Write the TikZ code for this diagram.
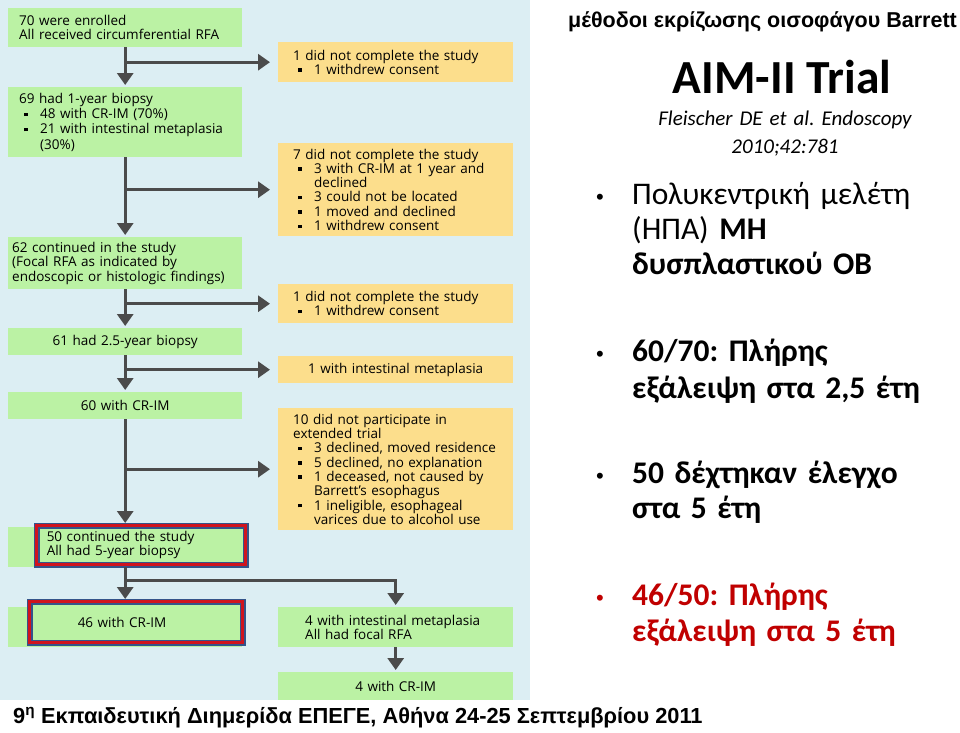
\documentclass[tikz,border=0pt]{standalone}
\usepackage{fontspec}
\usepackage{xcolor}
\setmainfont{Open Sans}
\newfontfamily\calib{Carlito}
\newfontfamily\arial{Liberation Sans}
\usetikzlibrary{arrows.meta,positioning}
\frenchspacing

\definecolor{bgblue}{HTML}{DCEEF3}
\definecolor{gfill}{HTML}{BBF2A4}
\definecolor{yfill}{HTML}{FCDE8C}
\definecolor{arrgray}{HTML}{4B4B4B}
\definecolor{navy}{HTML}{34548A}
\definecolor{hlred}{HTML}{D0141E}
\definecolor{txtred}{HTML}{C00000}

\newcommand{\itm}[1]{\par\hangindent=21pt\hspace*{5pt}\makebox[16pt][l]{\rule[2.6pt]{3.4pt}{3.4pt}}#1\par}

\tikzset{
  box/.style={anchor=north west, inner xsep=11pt, inner ysep=0pt, text width=212pt,
    font=\fontsize{13.5}{14.3}\selectfont, align=left},
  gbox/.style={box, fill=gfill},
  ybox/.style={box, fill=yfill, inner xsep=15pt, text width=205pt},
  hlbox/.style={box, fill=gfill, draw=navy, line width=1.5pt, double=hlred, double distance=3pt},
  arr/.style={draw=arrgray, line width=3pt, -{Triangle[length=12pt,width=16pt]}, shorten >=2pt},
  side/.style={arr, shorten >=8pt},
  pt/.style={anchor=base west, text width=330pt, inner sep=0pt, align=left},
  bul/.style={anchor=base, inner sep=0pt, font=\arial\fontsize{22}{24}\selectfont}
}

\begin{document}
\begin{tikzpicture}[x=1pt,y=-1pt]
  \useasboundingbox (0,0) rectangle (960,732);
  \fill[white] (0,0) rectangle (960,732);
  \fill[bgblue] (0,0) rectangle (530,700);

  % flow chart
  \node[gbox, minimum height=39pt] (b1) at (8,8) {70 were enrolled\\All received circumferential RFA};
  \node[ybox, minimum height=40pt] (y1) at (278,42) {1 did not complete the study\itm{1 withdrew consent}};
  \node[gbox, minimum height=70pt, font=\fontsize{13.5}{15.2}\selectfont] (b2) at (8,87) {69 had 1-year biopsy\itm{48 with CR-IM (70\%)}\itm{21 with intestinal metaplasia\newline(30\%)}};
  \node[ybox, minimum height=93pt] (y2) at (278,143) {7 did not complete the study\itm{3 with CR-IM at 1 year and\newline declined}\itm{3 could not be located}\itm{1 moved and declined}\itm{1 withdrew consent}};
  \node[gbox, minimum height=52pt, inner xsep=4pt, text width=226pt] (b3) at (8,237) {62 continued in the study\\(Focal RFA as indicated by\\endoscopic or histologic findings)};
  \node[ybox, minimum height=39pt] (y3) at (278,284) {1 did not complete the study\itm{1 withdrew consent}};
  \node[gbox, minimum height=27pt, align=center] (b4) at (8,328) {61 had 2.5-year biopsy};
  \node[ybox, minimum height=27pt, align=center] (y4) at (278,356) {1 with intestinal metaplasia};
  \node[gbox, minimum height=27pt, align=center] (b5) at (8,392) {60 with CR-IM};
  \node[ybox, minimum height=122pt] (y5) at (278,408) {10 did not participate in\\extended trial\itm{3 declined, moved residence}\itm{5 declined, no explanation}\itm{1 deceased, not caused by\newline Barrett's esophagus}\itm{1 ineligible, esophageal\newline varices due to alcohol use}};
  \node[gbox, minimum height=40pt] (b6bg) at (8,527) {};
  \node[hlbox, minimum height=39pt, inner xsep=10pt, text width=189pt] (b6) at (36,525) {50 continued the study\\All had 5-year biopsy};
  \node[gbox, minimum height=40pt] (b7bg) at (8,607) {};
  \node[hlbox, minimum height=41pt, inner xsep=10pt, text width=193pt] (b7) at (29,601) {\hspace*{38pt}46 with CR-IM};
  \node[ybox, fill=gfill, minimum height=40pt, inner xsep=27pt, text width=181pt] (b8) at (278,607) {4 with intestinal metaplasia\\All had focal RFA};
  \node[ybox, fill=gfill, minimum height=28pt, align=center] (b9) at (278,672) {4 with CR-IM};

  \draw[arr] (b1) -- (b2);
  \draw[side] (b1.south |- y1.west) -- (y1.west);
  \draw[arr] (b2) -- (b3);
  \draw[side] (b2.south |- y2.west) -- (y2.west);
  \draw[arr] (b3) -- (b4);
  \draw[side] (b3.south |- y3.west) -- (y3.west);
  \draw[arr] (b4) -- (b5);
  \draw[side] (b4.south |- y4.west) -- (y4.west);
  \draw[arr] (b5.south) -- (b5.south |- b6.north);
  \draw[side] (b5.south |- y5.west) -- (y5.west);
  \draw[arr] (b6bg.south) -- (b6bg.south |- b7.north);
  \coordinate (k) at ([yshift=-13pt]b6bg.south);
  \draw[arr] (k) -| (b8.north);
  \draw[arr] (b8) -- (b9);

  % right side
  \node[anchor=base east, inner sep=0pt, font=\arial\bfseries\fontsize{21.5}{24}\selectfont] (hdr) at (957,27.5) {μέθοδοι εκρίζωσης οισοφάγου Barrett};
  \node[anchor=base, inner sep=0pt, font=\calib\bfseries\fontsize{47.5}{50}\selectfont] (title) at (782,93) {AIM-II Trial};
  \node[anchor=base, inner sep=0pt, text width=300pt, align=center, font=\calib\itshape\fontsize{21}{28}\selectfont] (ref) at (785,125) {Fleischer DE et al. Endoscopy\\2010;42:781};
  \node[pt, font=\calib\fontsize{31.5}{35}\selectfont] (p1) at (632,204) {Πολυκεντρική μελέτη\\(ΗΠΑ) \textbf{ΜΗ}\\\textbf{δυσπλαστικού ΟΒ}};
  \node[pt, font=\calib\bfseries\fontsize{31.5}{37}\selectfont] (p2) at (632,361) {60/70: Πλήρης\\εξάλειψη στα 2,5 έτη};
  \node[pt, font=\calib\bfseries\fontsize{31.5}{35}\selectfont] (p3) at (632,483) {50 δέχτηκαν έλεγχο\\στα 5 έτη};
  \node[pt, font=\calib\bfseries\fontsize{31.5}{36}\selectfont, text=txtred] (p4) at (632,605) {46/50: Πλήρης\\εξάλειψη στα 5 έτη};
  \node[bul] (d1) at ([xshift=-32pt]p1.base west) {•};
  \node[bul] (d2) at ([xshift=-32pt]p2.base west) {•};
  \node[bul] (d3) at ([xshift=-32pt]p3.base west) {•};
  \node[bul, text=txtred] (d4) at ([xshift=-32pt]p4.base west) {•};

  \node[anchor=base west, inner sep=0pt, font=\arial\bfseries\fontsize{21.8}{24}\selectfont] (ftr) at (13,723) {9\textsuperscript{η} Εκπαιδευτική Διημερίδα ΕΠΕΓΕ, Αθήνα 24-25 Σεπτεμβρίου 2011};
\end{tikzpicture}
\end{document}
